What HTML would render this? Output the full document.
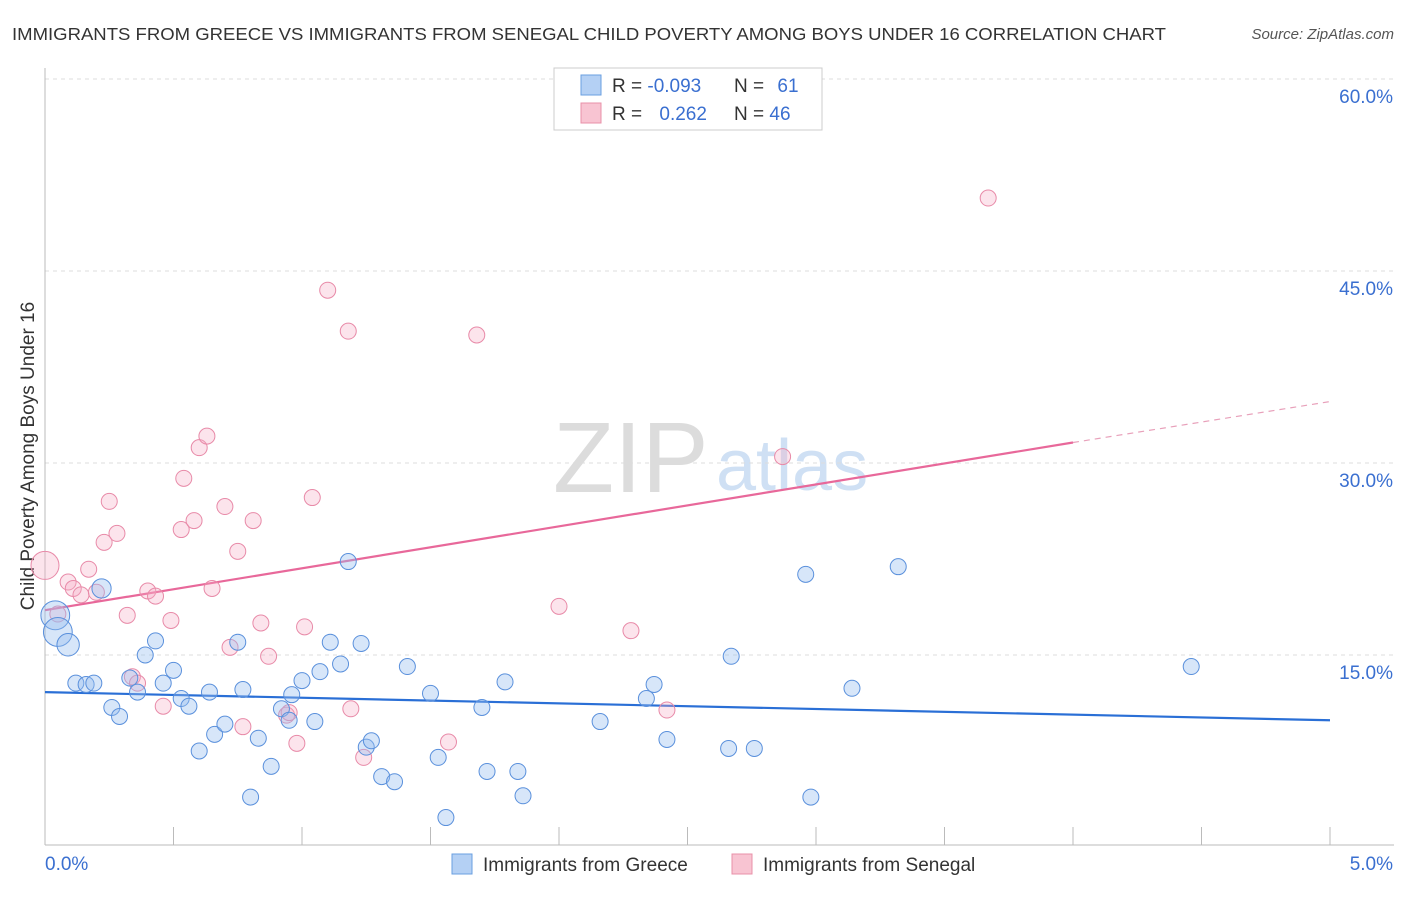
<!DOCTYPE html>
<html><head><meta charset="utf-8"><style>
body{margin:0;background:#fff;font-family:"Liberation Sans",sans-serif;}
svg text{font-family:"Liberation Sans",sans-serif;}
</style></head><body>
<svg width="1406" height="892" viewBox="0 0 1406 892" id="chart">
<text x="12" y="40" font-size="17.5" fill="#333" textLength="1154" lengthAdjust="spacingAndGlyphs">IMMIGRANTS FROM GREECE VS IMMIGRANTS FROM SENEGAL CHILD POVERTY AMONG BOYS UNDER 16 CORRELATION CHART</text>
<text x="1394" y="39" font-size="15" fill="#555" font-style="italic" text-anchor="end">Source: ZipAtlas.com</text>
<g>
<text x="553" y="492" font-size="100" font-family="Liberation Serif" fill="#dcdcdc">ZIP</text>
<text x="716" y="490" font-size="72" fill="#cfe0f4">atlas</text>
</g>
<g id="grid"></g>
<g id="axes"></g>
<text x="34" y="456" font-size="19" fill="#333" text-anchor="middle" transform="rotate(-90 34 456)">Child Poverty Among Boys Under 16</text>
<g id="trend"></g>
<g id="points"></g>
<g>
<rect x="554" y="68" width="268" height="62" fill="#fff" stroke="#ccc"/>
<rect x="581" y="75" width="20" height="20" fill="#b4d0f4" stroke="#6a9fe0"/>
<rect x="581" y="103" width="20" height="20" fill="#f8c4d2" stroke="#e890a8"/>
<text x="612" y="92" font-size="19" fill="#333">R = <tspan fill="#3a6fd0">-0.093</tspan></text>
<text x="734" y="92" font-size="19" fill="#333">N = <tspan fill="#3a6fd0" dx="8">61</tspan></text>
<text x="612" y="120" font-size="19" fill="#333">R = <tspan fill="#3a6fd0" dx="12">0.262</tspan></text>
<text x="734" y="120" font-size="19" fill="#333">N = <tspan fill="#3a6fd0">46</tspan></text>
</g>
<g>
<rect x="452" y="854" width="20" height="20" fill="#b4d0f4" stroke="#6a9fe0"/>
<text x="483" y="871" font-size="19" fill="#333">Immigrants from Greece</text>
<rect x="732" y="854" width="20" height="20" fill="#f8c4d2" stroke="#e890a8"/>
<text x="763" y="871" font-size="19" fill="#333">Immigrants from Senegal</text>
</g>
</svg>
<script>
const yTicks=[15,30,45,60];
const yTickLabels=["15.0%","30.0%","45.0%","60.0%"];
const xTickLabels=["0.0%","5.0%"];
const greeceX=[0.04,0.05,0.09,0.12,0.16,0.19,0.22,0.26,0.29,0.33,0.36,0.39,0.43,0.46,0.50,0.53,0.56,0.60,0.64,0.66,0.70,0.75,0.77,0.80,0.83,0.88,0.92,0.95,0.96,1.00,1.05,1.07,1.11,1.15,1.18,1.23,1.25,1.27,1.31,1.36,1.41,1.50,1.53,1.56,1.70,1.72,1.79,1.84,1.86,2.16,2.34,2.37,2.42,2.66,2.67,2.76,2.96,2.98,3.14,3.32,4.46];
const greeceY=[18.1,16.8,15.8,12.8,12.7,12.8,20.2,10.9,10.2,13.2,12.1,15.0,16.1,12.8,13.8,11.6,11.0,7.5,12.1,8.8,9.6,16.0,12.3,3.9,8.5,6.3,10.8,9.9,11.9,13.0,9.8,13.7,16.0,14.3,22.3,15.9,7.8,8.3,5.5,5.1,14.1,12.0,7.0,2.3,10.9,5.9,12.9,5.9,4.0,9.8,11.6,12.7,8.4,7.7,14.9,7.7,21.3,3.9,12.4,21.9,14.1];
const greeceSize=[1.8,1.8,1.4,1,1,1,1.2,1,1,1,1,1,1,1,1,1,1,1,1,1,1,1,1,1,1,1,1,1,1,1,1,1,1,1,1,1,1,1,1,1,1,1,1,1,1,1,1,1,1,1,1,1,1,1,1,1,1,1,1,1,1];
const senegalX=[0.00,0.05,0.09,0.11,0.14,0.17,0.20,0.23,0.25,0.28,0.32,0.34,0.36,0.40,0.43,0.46,0.49,0.53,0.54,0.58,0.60,0.63,0.65,0.70,0.75,0.77,0.72,0.81,0.84,0.87,0.94,0.95,0.98,1.01,1.04,1.10,1.18,1.19,1.24,1.57,1.68,2.00,2.28,2.42,2.87,3.67];
const senegalY=[22.0,18.2,20.7,20.2,19.7,21.7,19.9,23.8,27.0,24.5,18.1,13.3,12.8,20.0,19.6,11.0,17.7,24.8,28.8,25.5,31.2,32.1,20.2,26.6,23.1,9.4,15.6,25.5,17.5,14.9,10.3,10.5,8.1,17.2,27.3,43.5,40.3,10.8,7.0,8.2,40.0,18.8,16.9,10.7,30.5,50.7];
const greeceTrend=[12.1,9.9];
const senegalTrend=[18.5,31.6,34.8];
const X0=45,X1=1330,YB=847,PXPER=192/15;
const sx=v=>X0+(v/5)*(X1-X0);
const sy=v=>YB-v*PXPER;
const NS="http://www.w3.org/2000/svg";
function mk(t,a,p){const e=document.createElementNS(NS,t);for(const k in a)e.setAttribute(k,a[k]);p.appendChild(e);return e;}
const grid=document.getElementById('grid'),axes=document.getElementById('axes'),tr=document.getElementById('trend'),pts=document.getElementById('points');
yTicks.forEach((v,i)=>{
 const l=mk('line',{x1:X0,x2:1394,y1:sy(v),y2:sy(v),stroke:'#ddd','stroke-dasharray':'4,4'},grid);
 
 
 const t=mk('text',{x:1393,y:sy(v)+24,'font-size':19,fill:'#3a6fd0','text-anchor':'end'},axes);
 t.textContent=yTickLabels[i];
 
 
});
mk('line',{x1:X0,x2:X0,y1:68,y2:845,stroke:'#bbb'},axes);
const xa=mk('line',{x1:X0,x2:1394,y1:845,y2:845,stroke:'#bbb'},axes);


for(let i=0;i<=10;i++){mk('line',{x1:sx(i*0.5),x2:sx(i*0.5),y1:827,y2:845,stroke:'#bbb'},axes);}
const xl0=mk('text',{x:45,y:870,'font-size':19,fill:'#3a6fd0'},axes);xl0.textContent=xTickLabels[0];


const xl1=mk('text',{x:1393,y:870,'font-size':19,fill:'#3a6fd0','text-anchor':'end'},axes);xl1.textContent=xTickLabels[1];


const gl=mk('line',{x1:sx(0),y1:sy(greeceTrend[0]),x2:sx(5),y2:sy(greeceTrend[1]),stroke:'#2a6fd6','stroke-width':2.2},tr);


const pl=mk('line',{x1:sx(0),y1:sy(senegalTrend[0]),x2:sx(4),y2:sy(senegalTrend[1]),stroke:'#e8689a','stroke-width':2.2},tr);


const pd=mk('line',{x1:sx(4),y1:sy(senegalTrend[1]),x2:sx(5),y2:sy(senegalTrend[2]),stroke:'#e8a0ba','stroke-width':1.2,'stroke-dasharray':'6,5'},tr);


senegalX.forEach((x,i)=>{
 const c=mk('circle',{cx:sx(x),cy:sy(senegalY[i]),r:i===0?14:8,fill:'rgba(245,170,195,0.32)',stroke:'#e88aa8','stroke-width':1},pts);
 
 
});
greeceX.forEach((x,i)=>{
 const c=mk('circle',{cx:sx(x),cy:sy(greeceY[i]),r:8*greeceSize[i],fill:'rgba(150,190,240,0.38)',stroke:'#5a90dc','stroke-width':1},pts);
 
 
});
</script>
</body></html>
